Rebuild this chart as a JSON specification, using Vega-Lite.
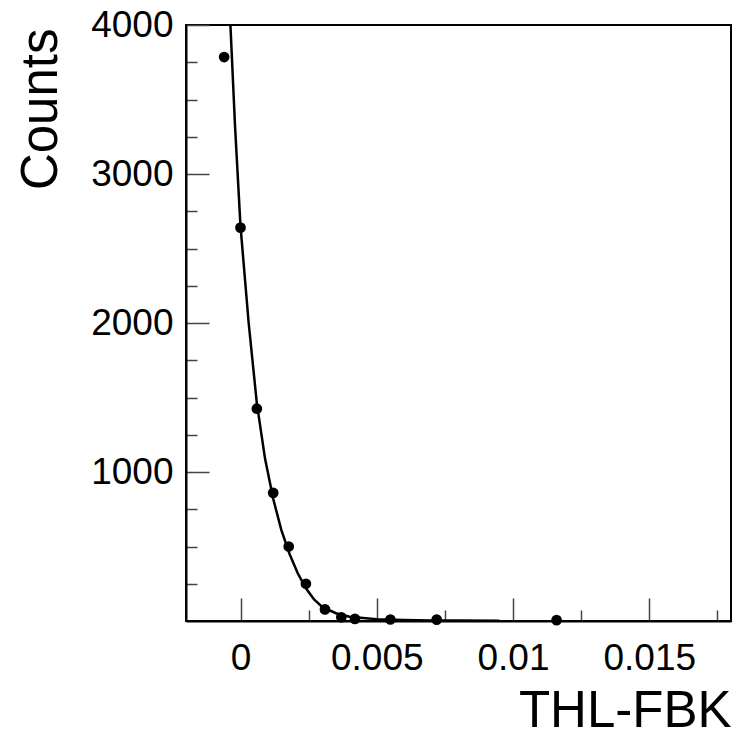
{
  "$schema": "https://vega.github.io/schema/vega-lite/v6.json",
  "autosize": "none",
  "width": 545,
  "height": 596,
  "padding": {"left": 186, "top": 25, "right": 10, "bottom": 118},
  "background": "white",
  "config": {
    "view": {"stroke": "black", "strokeWidth": 2},
    "font": "Liberation Sans",
    "axis": {
      "domainColor": "black",
      "domainWidth": 2,
      "grid": false,
      "tickColor": "#444",
      "tickWidth": 1.5,
      "labelColor": "black",
      "labelFont": "Liberation Sans",
      "labelFontSize": 37,
      "titleFont": "Liberation Sans",
      "titleColor": "black",
      "titleFontWeight": "normal"
    }
  },
  "datasets": {
    "points": [
      {"x": -0.0006, "counts": 3785},
      {"x": 0.0, "counts": 2640},
      {"x": 0.0006, "counts": 1425},
      {"x": 0.0012, "counts": 860},
      {"x": 0.00177, "counts": 500},
      {"x": 0.0024, "counts": 250},
      {"x": 0.0031, "counts": 78},
      {"x": 0.0037, "counts": 25},
      {"x": 0.0042, "counts": 14},
      {"x": 0.0055, "counts": 10},
      {"x": 0.0072, "counts": 9},
      {"x": 0.0116, "counts": 6}
    ],
    "fit": [
      {"x": -0.00037, "counts": 4000},
      {"x": -0.0002, "counts": 3320},
      {"x": 0.0, "counts": 2650},
      {"x": 0.0003, "counts": 2000},
      {"x": 0.0006, "counts": 1460},
      {"x": 0.0009, "counts": 1090},
      {"x": 0.0012, "counts": 820},
      {"x": 0.0015, "counts": 610},
      {"x": 0.0018, "counts": 450},
      {"x": 0.0021, "counts": 320},
      {"x": 0.0024, "counts": 220},
      {"x": 0.0027, "counts": 145},
      {"x": 0.003, "counts": 95},
      {"x": 0.0035, "counts": 52},
      {"x": 0.004, "counts": 28},
      {"x": 0.005, "counts": 11},
      {"x": 0.006, "counts": 6},
      {"x": 0.007, "counts": 4},
      {"x": 0.008, "counts": 3},
      {"x": 0.0095, "counts": 2}
    ]
  },
  "encoding": {
    "x": {
      "field": "x",
      "type": "quantitative",
      "scale": {"domain": [-0.002, 0.018], "nice": false, "zero": false},
      "axis": {
        "values": [0, 0.0025, 0.005, 0.0075, 0.01, 0.0125, 0.015, 0.0175],
        "labelExpr": "indexof([0, 0.005, 0.01, 0.015], datum.value) >= 0 ? format(datum.value, '~g') : ''",
        "tickSize": {"condition": {"test": "indexof([0, 0.005, 0.01, 0.015], datum.value) >= 0", "value": -23}, "value": -11},
        "labelPadding": 42,
        "labelFlush": false,
        "labelOverlap": false,
        "title": "THL-FBK",
        "titleFontSize": 51,
        "titleAnchor": "end",
        "titleAlign": "right",
        "titleBaseline": "alphabetic",
        "titleX": 545,
        "titleY": 105
      }
    },
    "y": {
      "field": "counts",
      "type": "quantitative",
      "scale": {"domain": [0, 4000], "nice": false},
      "axis": {
        "values": [250, 500, 750, 1000, 1250, 1500, 1750, 2000, 2250, 2500, 2750, 3000, 3250, 3500, 3750, 4000],
        "labelExpr": "datum.value % 1000 === 0 ? datum.value + '' : ''",
        "tickSize": {"condition": {"test": "datum.value % 1000 === 0", "value": -23}, "value": -11},
        "labelPadding": 36,
        "labelOverlap": false,
        "labelFlush": false,
        "title": "Counts",
        "titleFontSize": 51,
        "titleAngle": -90,
        "titleAnchor": "end",
        "titleAlign": "right",
        "titleBaseline": "alphabetic",
        "titleX": -130,
        "titleY": 3
      }
    }
  },
  "layer": [
    {
      "data": {"name": "fit"},
      "mark": {"type": "line", "color": "black", "strokeWidth": 2.5, "clip": true}
    },
    {
      "data": {"name": "points"},
      "mark": {"type": "circle", "color": "black", "opacity": 1, "size": 115}
    }
  ]
}
